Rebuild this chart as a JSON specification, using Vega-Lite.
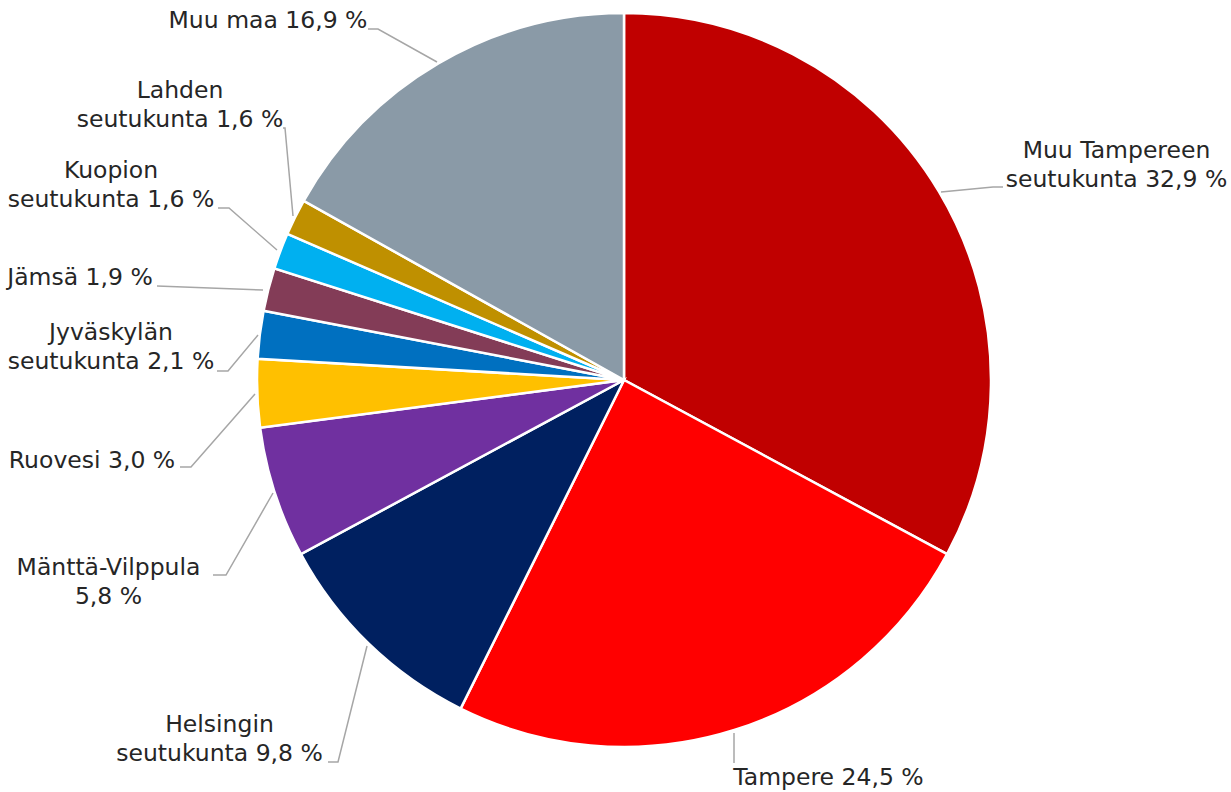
{
  "$schema": "https://vega.github.io/schema/vega-lite/v6.json",
  "width": 1231,
  "height": 792,
  "padding": 0,
  "autosize": {"type": "pad"},
  "background": "white",
  "config": {"view": {"stroke": null}},
  "datasets": {
    "slices": [
      {"alue": "Muu Tampereen seutukunta", "osuus": 32.9, "jarj": 1},
      {"alue": "Tampere", "osuus": 24.5, "jarj": 2},
      {"alue": "Helsingin seutukunta", "osuus": 9.8, "jarj": 3},
      {"alue": "Mänttä-Vilppula", "osuus": 5.8, "jarj": 4},
      {"alue": "Ruovesi", "osuus": 3.0, "jarj": 5},
      {"alue": "Jyväskylän seutukunta", "osuus": 2.1, "jarj": 6},
      {"alue": "Jämsä", "osuus": 1.9, "jarj": 7},
      {"alue": "Kuopion seutukunta", "osuus": 1.6, "jarj": 8},
      {"alue": "Lahden seutukunta", "osuus": 1.6, "jarj": 9},
      {"alue": "Muu maa", "osuus": 16.9, "jarj": 10}
    ],
    "labels": [
      {"alue": "Muu Tampereen seutukunta", "teksti": "Muu Tampereen\nseutukunta 32,9 %", "lx": 492.5, "ly": 229},
      {"alue": "Tampere", "teksti": "Tampere 24,5 %", "lx": 204.5, "ly": -398},
      {"alue": "Helsingin seutukunta", "teksti": "Helsingin\nseutukunta 9,8 %", "lx": -404.5, "ly": -345},
      {"alue": "Mänttä-Vilppula", "teksti": "Mänttä-Vilppula\n5,8 %", "lx": -515.5, "ly": -188},
      {"alue": "Ruovesi", "teksti": "Ruovesi 3,0 %", "lx": -532, "ly": -81},
      {"alue": "Jyväskylän seutukunta", "teksti": "Jyväskylän\nseutukunta 2,1 %", "lx": -513, "ly": 47},
      {"alue": "Jämsä", "teksti": "Jämsä 1,9 %", "lx": -544, "ly": 102},
      {"alue": "Kuopion seutukunta", "teksti": "Kuopion\nseutukunta 1,6 %", "lx": -513, "ly": 209},
      {"alue": "Lahden seutukunta", "teksti": "Lahden\nseutukunta 1,6 %", "lx": -444, "ly": 289},
      {"alue": "Muu maa", "teksti": "Muu maa 16,9 %", "lx": -356, "ly": 359}
    ],
    "leaders": [
      {"alue": "Muu Tampereen seutukunta", "p": 1, "lx": 317, "ly": 188},
      {"alue": "Muu Tampereen seutukunta", "p": 2, "lx": 369, "ly": 193},
      {"alue": "Muu Tampereen seutukunta", "p": 3, "lx": 379, "ly": 193},
      {"alue": "Tampere", "p": 1, "lx": 110, "ly": -353},
      {"alue": "Tampere", "p": 2, "lx": 110, "ly": -383},
      {"alue": "Helsingin seutukunta", "p": 1, "lx": -257, "ly": -266},
      {"alue": "Helsingin seutukunta", "p": 2, "lx": -286, "ly": -382},
      {"alue": "Helsingin seutukunta", "p": 3, "lx": -296, "ly": -382},
      {"alue": "Mänttä-Vilppula", "p": 1, "lx": -351, "ly": -113},
      {"alue": "Mänttä-Vilppula", "p": 2, "lx": -398, "ly": -195},
      {"alue": "Mänttä-Vilppula", "p": 3, "lx": -411, "ly": -195},
      {"alue": "Ruovesi", "p": 1, "lx": -369, "ly": -14},
      {"alue": "Ruovesi", "p": 2, "lx": -433, "ly": -87},
      {"alue": "Ruovesi", "p": 3, "lx": -444, "ly": -87},
      {"alue": "Jyväskylän seutukunta", "p": 1, "lx": -366, "ly": 45},
      {"alue": "Jyväskylän seutukunta", "p": 2, "lx": -396, "ly": 9},
      {"alue": "Jyväskylän seutukunta", "p": 3, "lx": -407, "ly": 9},
      {"alue": "Jämsä", "p": 1, "lx": -361, "ly": 90},
      {"alue": "Jämsä", "p": 2, "lx": -467, "ly": 94},
      {"alue": "Kuopion seutukunta", "p": 1, "lx": -347, "ly": 130},
      {"alue": "Kuopion seutukunta", "p": 2, "lx": -395, "ly": 172},
      {"alue": "Kuopion seutukunta", "p": 3, "lx": -406, "ly": 172},
      {"alue": "Lahden seutukunta", "p": 1, "lx": -331, "ly": 164},
      {"alue": "Lahden seutukunta", "p": 2, "lx": -339, "ly": 252},
      {"alue": "Lahden seutukunta", "p": 3, "lx": -341, "ly": 252},
      {"alue": "Muu maa", "p": 1, "lx": -187, "ly": 318},
      {"alue": "Muu maa", "p": 2, "lx": -246, "ly": 351},
      {"alue": "Muu maa", "p": 3, "lx": -256, "ly": 351}
    ]
  },
  "layer": [
    {
      "data": {"name": "slices"},
      "mark": {"type": "arc", "outerRadius": 367, "stroke": "white", "strokeWidth": 2.5},
      "encoding": {
        "theta": {"field": "osuus", "type": "quantitative", "stack": true},
        "order": {"field": "jarj", "type": "quantitative"},
        "x": {"datum": 0, "type": "quantitative", "scale": {"domain": [-624, 607], "nice": false, "zero": false}, "axis": null},
        "y": {"datum": 0, "type": "quantitative", "scale": {"domain": [-412, 380], "nice": false, "zero": false}, "axis": null},
        "color": {
          "field": "alue",
          "type": "nominal",
          "legend": null,
          "scale": {
            "domain": ["Muu Tampereen seutukunta", "Tampere", "Helsingin seutukunta", "Mänttä-Vilppula", "Ruovesi", "Jyväskylän seutukunta", "Jämsä", "Kuopion seutukunta", "Lahden seutukunta", "Muu maa"],
            "range": ["#C00000", "#FF0000", "#002060", "#7030A0", "#FFC000", "#0070C0", "#833C57", "#00B0F0", "#BF9000", "#8A9AA7"]
          }
        }
      }
    },
    {
      "data": {"name": "leaders"},
      "mark": {"type": "line", "stroke": "#A6A6A6", "strokeWidth": 1.5, "interpolate": "linear"},
      "encoding": {
        "x": {"field": "lx", "type": "quantitative"},
        "y": {"field": "ly", "type": "quantitative"},
        "detail": {"field": "alue", "type": "nominal"},
        "order": {"field": "p", "type": "quantitative"}
      }
    },
    {
      "data": {"name": "labels"},
      "mark": {"type": "text", "font": "DejaVu Sans", "fontSize": 23.5, "color": "#262626", "align": "center", "baseline": "middle", "lineBreak": "\n", "lineHeight": 29},
      "encoding": {
        "x": {"field": "lx", "type": "quantitative"},
        "y": {"field": "ly", "type": "quantitative"},
        "text": {"field": "teksti", "type": "nominal"}
      }
    }
  ]
}
